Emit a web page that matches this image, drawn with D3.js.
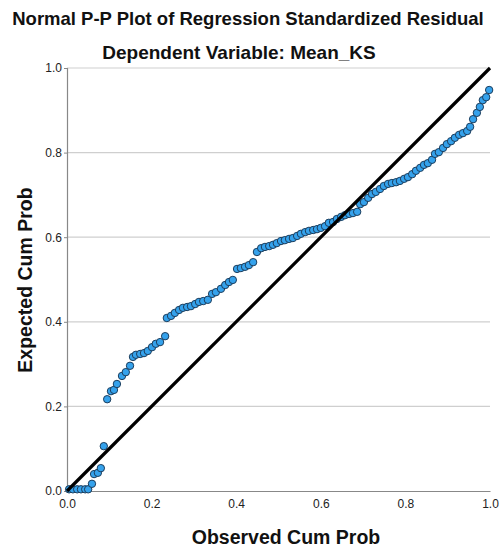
<!DOCTYPE html>
<html><head><meta charset="utf-8">
<script src="https://cdn.jsdelivr.net/npm/d3@7"></script>
<style>body{margin:0;background:#fff}svg{display:block}text{font-family:"Liberation Sans",Arial,sans-serif}</style>
</head><body>
<svg id="c" width="501" height="548"></svg>
<script>
const title = "Normal P-P Plot of Regression Standardized Residual";
const subtitle = "Dependent Variable: Mean_KS";
const xLabel = "Observed Cum Prob";
const yLabel = "Expected Cum Prob";
const tickValues = [0, 0.2, 0.4, 0.6, 0.8, 1.0];
const observed = [0.005,0.014,0.024,0.033,0.043,0.050,0.059,0.064,0.073,0.080,0.087,0.095,0.104,0.111,0.118,0.130,0.139,0.149,0.156,0.163,0.173,0.182,0.191,0.201,0.210,0.220,0.232,0.236,0.246,0.255,0.265,0.274,0.284,0.293,0.303,0.312,0.322,0.333,0.343,0.352,0.364,0.374,0.383,0.392,0.402,0.411,0.421,0.430,0.440,0.449,0.459,0.468,0.478,0.487,0.496,0.506,0.515,0.525,0.534,0.544,0.553,0.563,0.572,0.582,0.591,0.600,0.610,0.619,0.629,0.638,0.648,0.657,0.667,0.676,0.686,0.693,0.702,0.712,0.721,0.730,0.740,0.749,0.759,0.768,0.778,0.787,0.797,0.806,0.816,0.825,0.835,0.844,0.853,0.863,0.870,0.879,0.889,0.898,0.908,0.917,0.927,0.936,0.946,0.953,0.960,0.969,0.976,0.983,0.991,0.998];
const expected = [0.004,0.004,0.004,0.004,0.004,0.004,0.017,0.040,0.043,0.054,0.106,0.217,0.236,0.239,0.253,0.272,0.281,0.296,0.317,0.322,0.324,0.326,0.331,0.340,0.348,0.352,0.366,0.409,0.414,0.421,0.428,0.433,0.435,0.437,0.442,0.447,0.449,0.452,0.466,0.470,0.478,0.487,0.494,0.499,0.525,0.527,0.530,0.534,0.541,0.565,0.574,0.577,0.579,0.582,0.586,0.591,0.593,0.596,0.598,0.603,0.608,0.612,0.615,0.617,0.619,0.622,0.626,0.634,0.636,0.643,0.648,0.652,0.655,0.657,0.660,0.678,0.683,0.693,0.702,0.707,0.714,0.721,0.726,0.728,0.730,0.733,0.738,0.742,0.749,0.757,0.764,0.771,0.775,0.783,0.797,0.801,0.811,0.820,0.827,0.835,0.842,0.846,0.851,0.861,0.879,0.894,0.908,0.924,0.931,0.948];
const refLine = [[0,0],[1,1]];

const svg = d3.select("#c");
const m = {left:67, right:490, top:68, bottom:491};
const x = d3.scaleLinear().domain([0,1]).range([m.left, m.right]);
const y = d3.scaleLinear().domain([0,1]).range([m.bottom, m.top]);

// gridlines
svg.append("g").selectAll("line").data(tickValues.filter(d=>d>0)).join("line")
  .attr("x1", m.left).attr("x2", m.right)
  .attr("y1", d=>y(d)).attr("y2", d=>y(d))
  .attr("stroke", "#cfcfcf").attr("stroke-width", 1.2);

// axes
const fmt = d3.format(".1f");
const yAxis = svg.append("g").attr("transform", `translate(${m.left},0)`)
  .call(d3.axisLeft(y).tickValues(tickValues).tickFormat(fmt).tickSize(3).tickPadding(2));
const xAxis = svg.append("g").attr("transform", `translate(0,${m.bottom})`)
  .call(d3.axisBottom(x).tickValues(tickValues).tickFormat(fmt).tickSize(0).tickPadding(8));
[yAxis, xAxis].forEach(a => {
  a.select(".domain").attr("stroke", "#888").attr("stroke-width", 1.2);
  a.selectAll(".tick line").attr("stroke", "#888");
  a.selectAll("text").attr("fill", "#222").style("font-size", "12px");
});

// points
svg.append("g").selectAll("circle").data(observed.map((o,i)=>[o, expected[i]])).join("circle")
  .attr("cx", d=>x(d[0])).attr("cy", d=>y(d[1])).attr("r", 3.7)
  .attr("fill", "#35a2ec").attr("stroke", "#1c3d5c").attr("stroke-width", 1);

// reference line
svg.append("path").datum(refLine)
  .attr("d", d3.line().x(d=>x(d[0])).y(d=>y(d[1])))
  .attr("stroke", "#000").attr("stroke-width", 3.2).attr("fill", "none");

// titles
svg.append("text").attr("x", 248).attr("y", 25).attr("text-anchor", "middle")
  .style("font-size", "18.5px").style("font-weight", "bold").attr("fill", "#111").text(title);
svg.append("text").attr("x", 239).attr("y", 59).attr("text-anchor", "middle")
  .style("font-size", "19px").style("font-weight", "bold").attr("fill", "#111").text(subtitle);
svg.append("text").attr("x", 286).attr("y", 544).attr("text-anchor", "middle")
  .style("font-size", "19.5px").style("font-weight", "bold").attr("fill", "#111").text(xLabel);
svg.append("text").attr("transform", "translate(32,280) rotate(-90)").attr("text-anchor", "middle")
  .style("font-size", "19.5px").style("font-weight", "bold").attr("fill", "#111").text(yLabel);
</script>
</body></html>
